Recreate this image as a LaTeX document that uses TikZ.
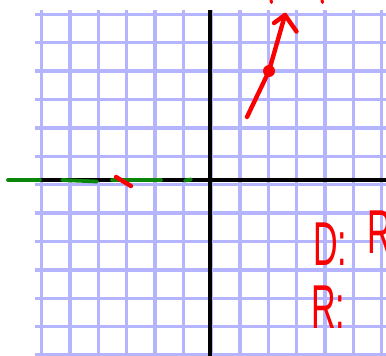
\documentclass[tikz,border=0pt]{standalone}
\usepackage{fontspec}
\setmainfont{Liberation Sans}
\definecolor{gridblue}{RGB}{180,180,255}
\definecolor{inkred}{RGB}{250,0,0}
\definecolor{inkgreen}{RGB}{10,135,10}
\tikzset{
  gridline/.style={draw=gridblue, line width=3.4pt},
  axisline/.style={draw=black, line width=4pt},
  redink/.style={draw=inkred, line width=4.4pt, line cap=round, line join=round},
  greenink/.style={draw=inkgreen, line width=3.8pt, line cap=round},
  handtext/.style={text=inkred, font=\fontsize{62}{62}\selectfont, inner sep=0pt, xscale=0.55}
}
\begin{document}
\begin{tikzpicture}[x=1pt,y=-1pt]
\useasboundingbox (0,0) rectangle (386,356);
% grid
\foreach \k in {0,...,12} {
  \draw[gridline] ({41.5+28.35*\k},10) -- ({41.5+28.35*\k},356);
  \draw[gridline] (35,{14.2+28.4*\k}) -- (386,{14.2+28.4*\k});
}
% axes
\draw[axisline] (209.7,10) -- (209.7,356);
\draw[axisline] (35,180) -- (386,180);
% green line on negative x-axis
\draw[greenink] (8,180) -- (40,180);
\draw[greenink] (62,180) -- (97,181.5);
\draw[greenink] (112,180) -- (161,180);
\draw[greenink] (185,180.5) -- (191,179.5);
% red slash
\draw[redink] (116,177) -- (131,186);
% red ray with point
\coordinate (s) at (247,117);
\coordinate (p) at (269,71);
\coordinate (t) at (285,15);
\draw[redink] (s) -- (p) -- (t);
\draw[redink] (274,23) -- (t) -- (296.5,31.5);
\fill[inkred] (p) circle (6);
% cut-off marks at top
\draw[redink, line width=3pt] (271,0) -- (271.5,2.5);
\draw[redink, line width=3pt] (322,0) -- (322.5,2.5);
% handwritten text
\node[handtext, anchor=base west] (dom) at (313,265) {D:};
\node[handtext, anchor=base west] (domset) at (367,253) {R};
\node[handtext, anchor=base west] (ran) at (311,328) {R:};
\end{tikzpicture}
\end{document}
